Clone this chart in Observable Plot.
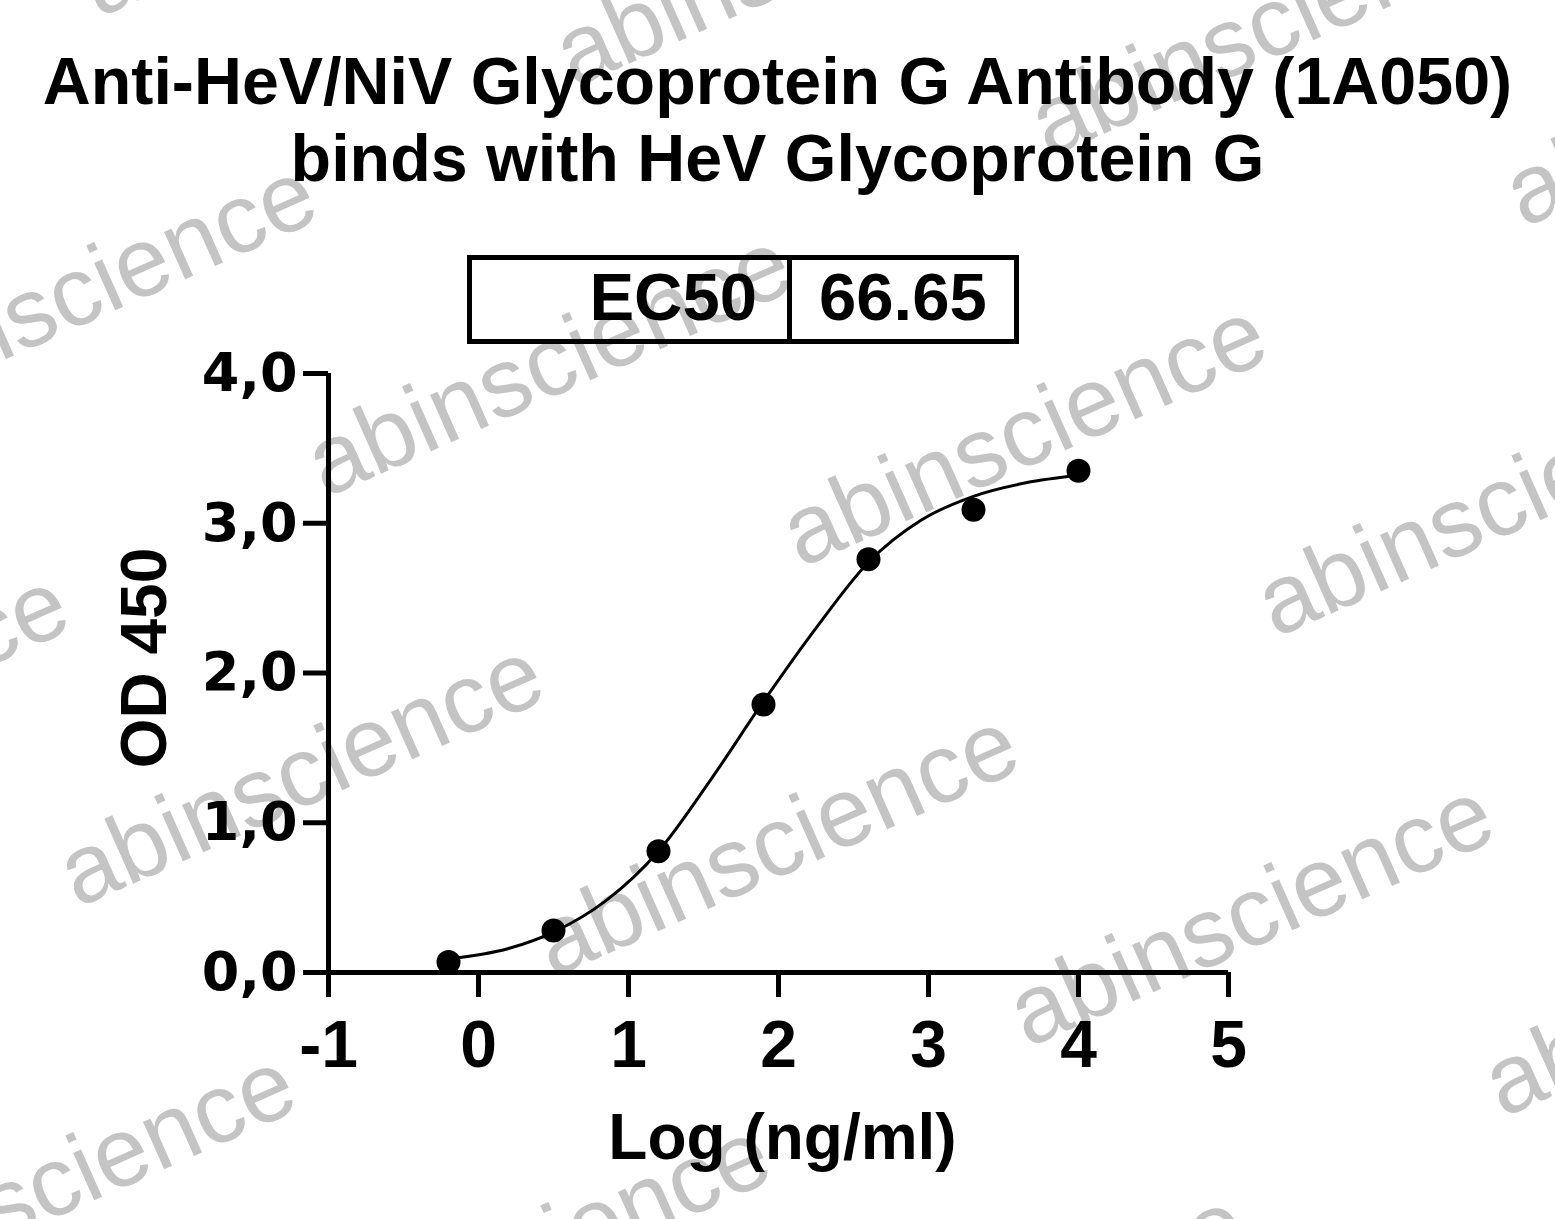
<!DOCTYPE html>
<html>
<head>
<meta charset="utf-8">
<script src="https://cdn.jsdelivr.net/npm/d3@7"></script>
<script src="https://cdn.jsdelivr.net/npm/@observablehq/plot@0.6"></script>
<style>
  html, body { margin: 0; padding: 0; background: #fff; }
  #stage { position: relative; width: 1555px; height: 1219px; overflow: hidden; background: #fff; }
  #wm { position: absolute; left: 0; top: 0; width: 1555px; height: 1219px; z-index: 0; }
  .wm { position: absolute; white-space: nowrap; line-height: 1; font-family: "Liberation Sans", Arial, sans-serif;
        font-size: 98px; color: #c4c4c4; transform: translate(-50%, -50%) rotate(-24deg); }
  #chart { position: absolute; left: 0; top: 0; z-index: 1; }
  #title { position: absolute; left: 0; top: 43px; width: 1555px; text-align: center; z-index: 2;
           font-family: "Liberation Sans", Arial, sans-serif; font-weight: bold; font-size: 66.4px; line-height: 77px; color: #000; }
  #ec50 { position: absolute; left: 467px; top: 255px; width: 552px; height: 89px; box-sizing: border-box;
          border: 5px solid #000; display: flex; z-index: 2;
          font-family: "Liberation Sans", Arial, sans-serif; font-weight: bold; font-size: 67px; line-height: 74px; color: #000; }
  #ec50 .k { width: 320px; box-sizing: border-box; border-right: 5px solid #000; text-align: right; padding-right: 30px; }
  #ec50 .v { flex: 1; text-align: left; padding-left: 27px; }
</style>
</head>
<body>
<div id="stage">
  <div id="wm"></div>
  <div id="chart"></div>
  <div id="title"></div>
  <div id="ec50"><div class="k"></div><div class="v"></div></div>
</div>
<script>
// ---- chart text ----
const titleLines = ["Anti-HeV/NiV Glycoprotein G Antibody (1A050)", "binds with HeV Glycoprotein G"];
const ec50Label = "EC50";
const ec50Value = "66.65";
const xLabel = "Log (ng/ml)";
const yLabel = "OD 450";
const watermarkText = "abinscience";

// ---- axes ----
const xTicks = [-1, 0, 1, 2, 3, 4, 5];
const xTickLabels = ["-1", "0", "1", "2", "3", "4", "5"];
const yTicks = [0, 1, 2, 3, 4];
const yTickLabels = ["0,0", "1,0", "2,0", "3,0", "4,0"];

// ---- measured points ----
const logConc = [-0.2, 0.5, 1.2, 1.9, 2.6, 3.3, 4.0];
const od450 = [0.07, 0.28, 0.81, 1.79, 2.76, 3.09, 3.35];

// ---- fitted curve ----
const fitX = [-0.2, 0.2, 0.5, 0.85, 1.2, 1.55, 1.9, 2.25, 2.6, 2.95, 3.3, 3.65, 4.0];
const fitY = [0.09, 0.16, 0.27, 0.48, 0.81, 1.29, 1.81, 2.30, 2.74, 3.02, 3.18, 3.27, 3.32];

const points = logConc.map((x, i) => ({x, y: od450[i]}));
const fit = fitX.map((x, i) => ({x, y: fitY[i]}));

document.getElementById("title").innerHTML = titleLines.map(t => `<div>${t}</div>`).join("");
document.querySelector("#ec50 .k").textContent = ec50Label;
document.querySelector("#ec50 .v").textContent = ec50Value;

// watermark layer (decorative, repeated on a slanted grid)
const wm = document.getElementById("wm");
const base = [548, 362], va = [475, 70], vb = [-248, 410];
for (let i = -4; i <= 4; i++) {
  for (let j = -3; j <= 4; j++) {
    const cx = base[0] + i * va[0] + j * vb[0];
    const cy = base[1] + i * va[1] + j * vb[1];
    if (cx < -320 || cx > 1880 || cy < -180 || cy > 1400) continue;
    const s = document.createElement("div");
    s.className = "wm";
    s.style.left = cx + "px";
    s.style.top = cy + "px";
    s.textContent = watermarkText;
    wm.appendChild(s);
  }
}

const sans = "Liberation Sans, Arial, sans-serif";

const plot = Plot.plot({
  width: 1555,
  height: 1219,
  marginLeft: 328,
  marginRight: 327,
  marginTop: 373,
  marginBottom: 247,
  style: {background: "transparent", overflow: "visible", color: "#000"},
  x: {domain: [-1, 5]},
  y: {domain: [0, 4]},
  marks: [
    Plot.ruleY([0], {stroke: "#000", strokeWidth: 5}),
    Plot.ruleX([-1], {stroke: "#000", strokeWidth: 5, insetBottom: -25}),
    Plot.axisX({ticks: xTicks, tickFormat: d => xTickLabels[xTicks.indexOf(d)], tickSize: 25, strokeWidth: 5,
                tickPadding: 23, fontSize: 66, fontWeight: "bold", fontFamily: sans, label: null, fill: "#000"}),
    Plot.axisY({ticks: yTicks, tickFormat: d => yTickLabels[yTicks.indexOf(d)], tickSize: 25, strokeWidth: 5,
                tickPadding: 6, fontSize: 54, fontWeight: "bold", fontFamily: "DejaVu Sans, sans-serif", label: null, fill: "#000"}),
    Plot.line(fit, {x: "x", y: "y", curve: "monotone-x", stroke: "#000", strokeWidth: 3}),
    Plot.dot(points, {x: "x", y: "y", r: 12, fill: "#000", stroke: "none"}),
    Plot.text([xLabel], {text: d => d, frameAnchor: "bottom", textAnchor: "middle", lineAnchor: "top", dy: 141, dx: 4,
                         fontSize: 64, fontWeight: "bold", fontFamily: sans, fill: "#000"}),
    Plot.text([yLabel], {text: d => d, frameAnchor: "left", textAnchor: "middle", rotate: -90, lineAnchor: "middle", dx: -183, dy: -15,
                         fontSize: 64, fontWeight: "bold", fontFamily: sans, fill: "#000"})
  ]
});
document.getElementById("chart").appendChild(plot);
</script>
</body>
</html>
